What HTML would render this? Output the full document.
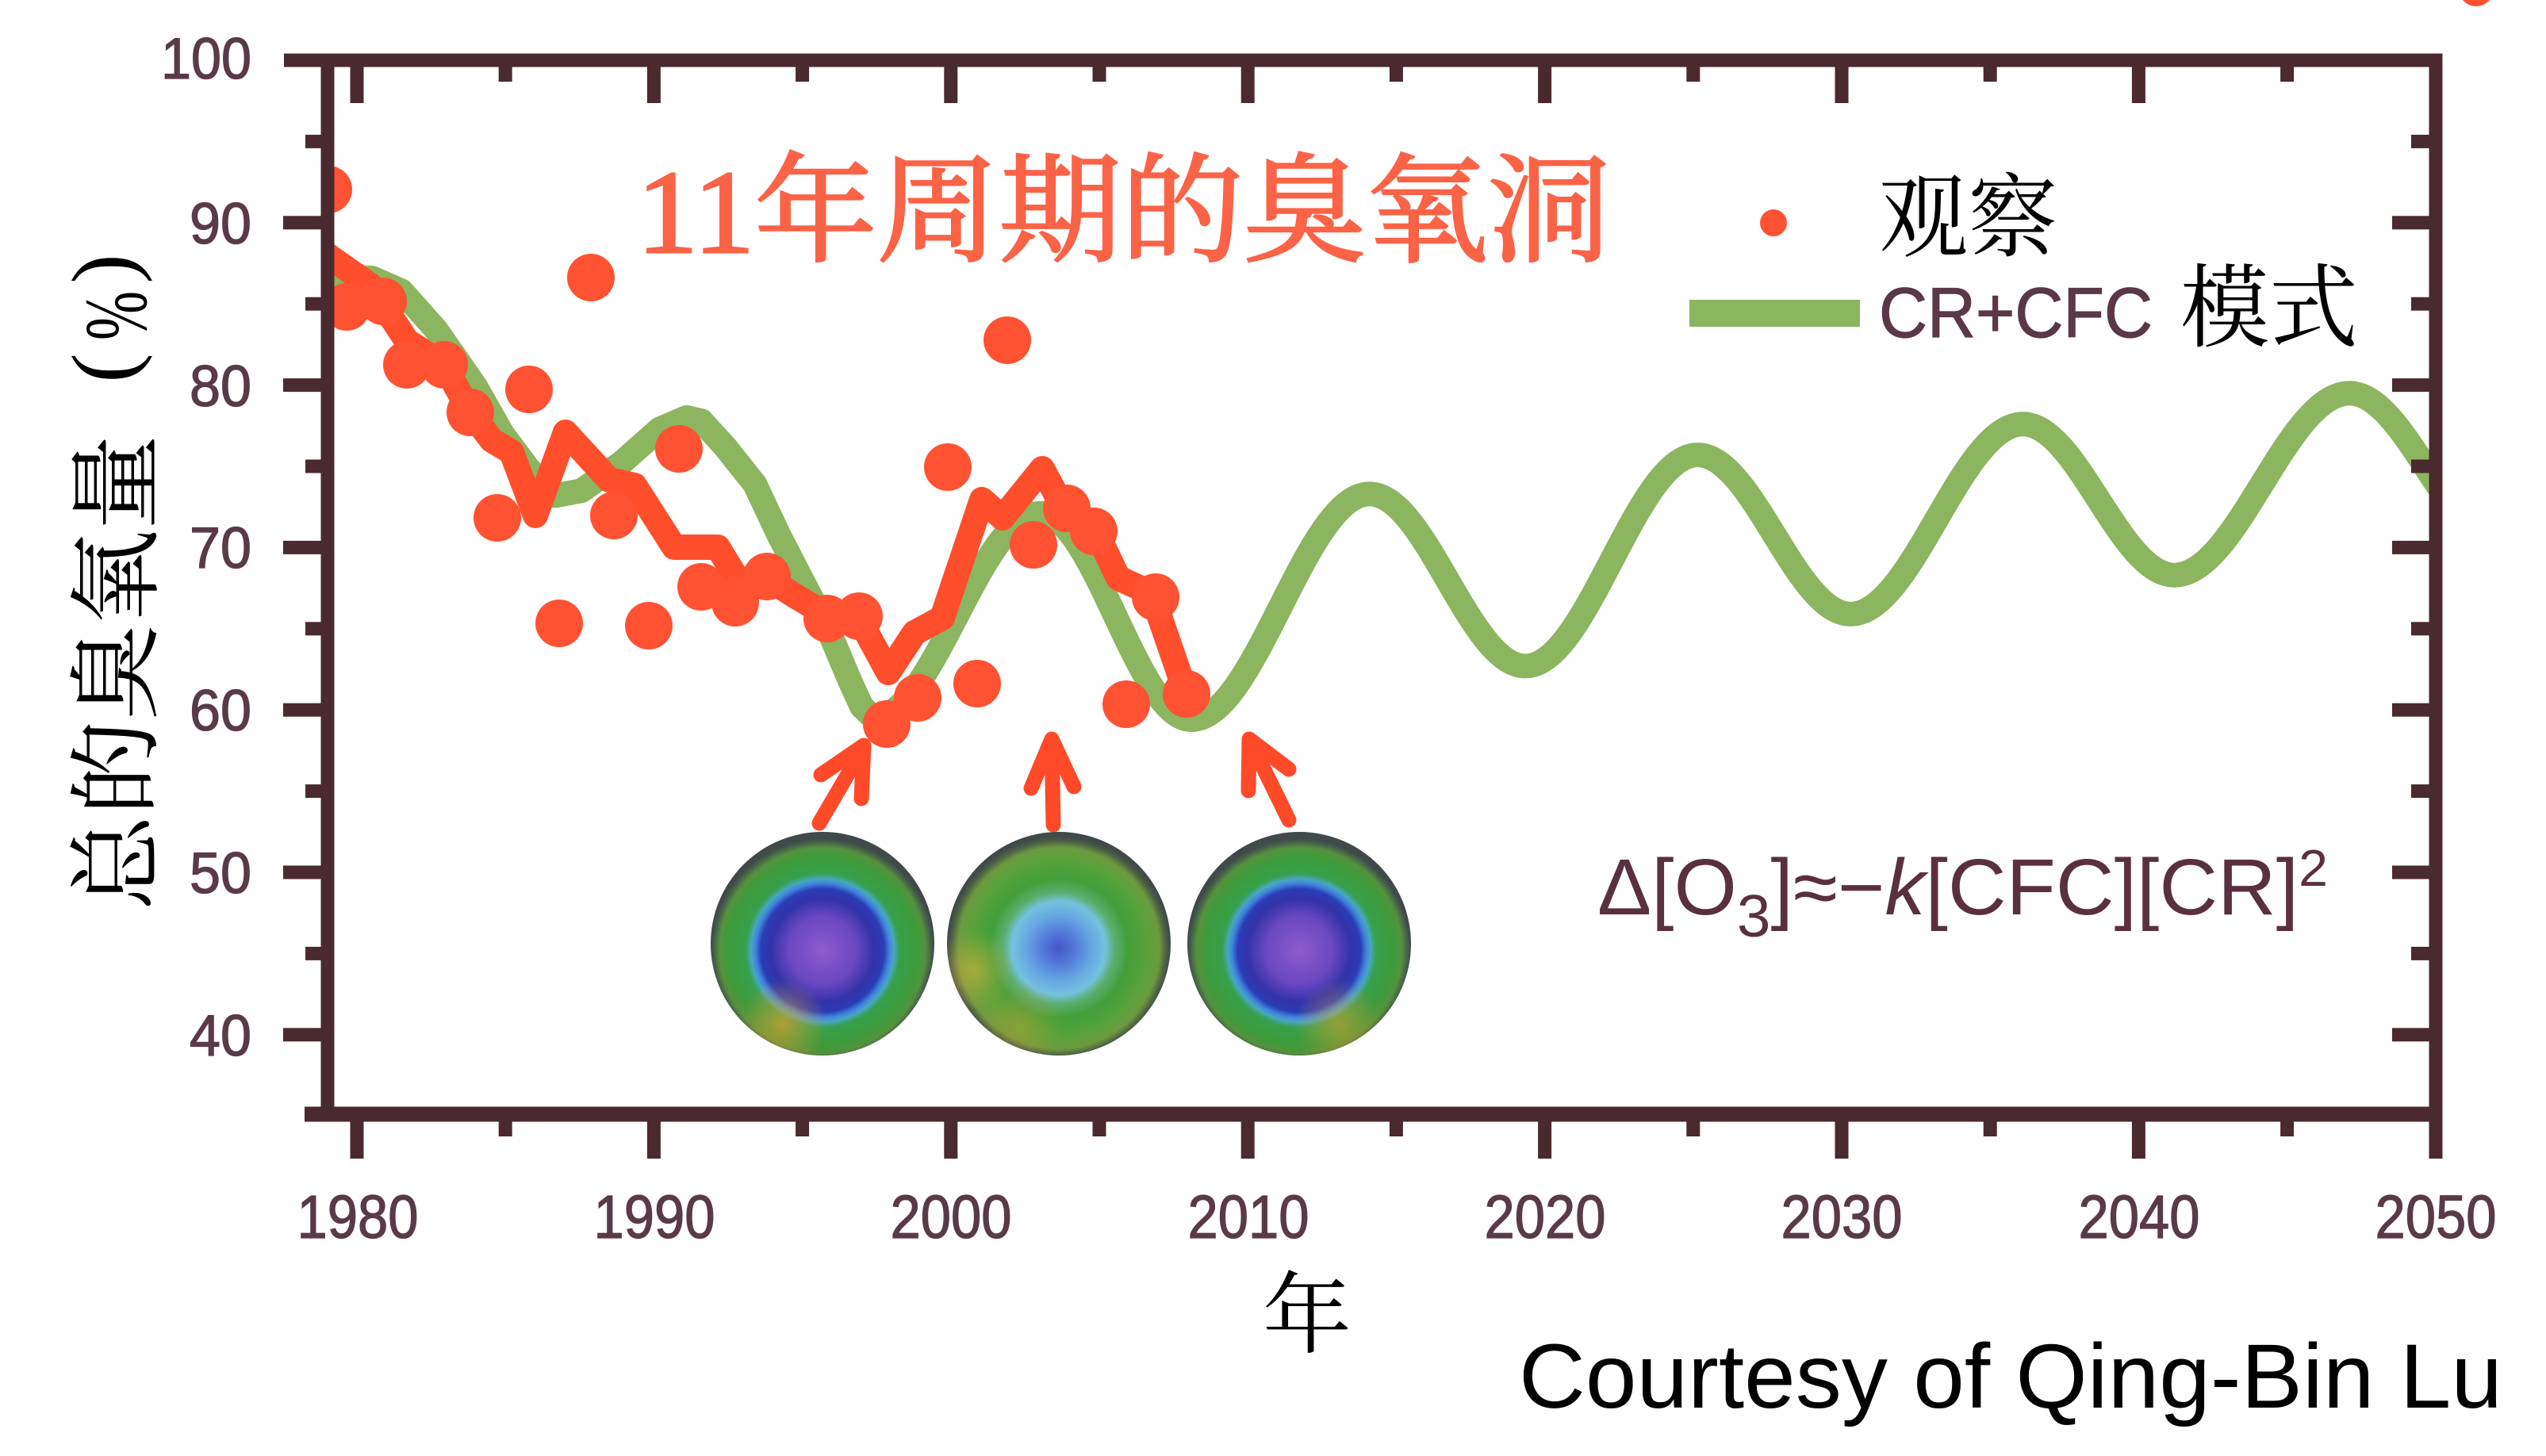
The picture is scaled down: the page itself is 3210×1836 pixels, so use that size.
<!DOCTYPE html>
<html>
<head>
<meta charset="utf-8">
<style>
html,body{margin:0;padding:0;background:#ffffff;}
svg{display:block;}
</style>
</head>
<body>
<svg width="3210" height="1836" viewBox="0 0 3210 1836" xmlns="http://www.w3.org/2000/svg">
<defs>
  <clipPath id="plot"><rect x="413" y="76" width="2658" height="1330"/></clipPath>
  <radialGradient id="gA" cx="0.5" cy="0.53" r="0.5">
    <stop offset="0" stop-color="#8c5ccc"/>
    <stop offset="0.3" stop-color="#6a48c0"/>
    <stop offset="0.46" stop-color="#3433a8"/>
    <stop offset="0.55" stop-color="#2a3cb6"/>
    <stop offset="0.6" stop-color="#3f84dc"/>
    <stop offset="0.64" stop-color="#48a6c0"/>
    <stop offset="0.69" stop-color="#36a04c"/>
    <stop offset="0.84" stop-color="#3c9a3a"/>
    <stop offset="0.92" stop-color="#54913e"/>
    <stop offset="0.97" stop-color="#46604a"/>
    <stop offset="1" stop-color="#404a48"/>
  </radialGradient>
  <radialGradient id="gB" cx="0.5" cy="0.52" r="0.5">
    <stop offset="0" stop-color="#4456c8"/>
    <stop offset="0.14" stop-color="#5478d8"/>
    <stop offset="0.3" stop-color="#66a8e2"/>
    <stop offset="0.42" stop-color="#74c2dc"/>
    <stop offset="0.5" stop-color="#5aae70"/>
    <stop offset="0.62" stop-color="#42a03a"/>
    <stop offset="0.8" stop-color="#5aa23a"/>
    <stop offset="0.9" stop-color="#6c9a40"/>
    <stop offset="0.96" stop-color="#4c6044"/>
    <stop offset="1" stop-color="#404a48"/>
  </radialGradient>
  <radialGradient id="warm" cx="0.32" cy="0.86" r="0.2">
    <stop offset="0" stop-color="#e0a030" stop-opacity="0.7"/>
    <stop offset="1" stop-color="#e0a030" stop-opacity="0"/>
  </radialGradient>
  <radialGradient id="warm2" cx="0.12" cy="0.62" r="0.18">
    <stop offset="0" stop-color="#d8b040" stop-opacity="0.6"/>
    <stop offset="1" stop-color="#d8b040" stop-opacity="0"/>
  </radialGradient>
</defs>

<rect x="0" y="0" width="3210" height="1836" fill="#ffffff"/>

<!-- tiny orange blob top right -->
<circle cx="3122" cy="-14" r="22" fill="#ff5030"/>

<!-- Data -->
<g clip-path="url(#plot)">
  <path transform="matrix(37.44 0 0 -20.48 450 2124)" vector-effect="non-scaling-stroke"
    fill="none" stroke="#8cb55f" stroke-width="31" stroke-linejoin="round" stroke-linecap="butt"
    d="M -1.2 86.2 L 0.0 86.6 L 0.5 86.6 L 1.5 85.8 L 2.67 83.4 L 4.0 79.9 L 4.9 77.0 L 5.8 74.8 L 6.7 73.2 L 7.56 73.5 L 8.9 75.2 L 10.2 77.3 L 11.1 78.0 L 11.6 77.8 L 12.4 76.2 L 13.4 73.9 L 14.2 70.8 L 15.3 66.9 L 16.0 64.4 L 16.6 61.8 L 17.0 60.2 L 17.4 59.5
       C 19.416 59.5 20.984 72.1 23.0 72.1
       C 24.836 72.1 26.264 59.4 28.1 59.4
       C 30.26 59.4 31.94 73.3 34.1 73.3
       C 35.99 73.3 37.46 62.7 39.35 62.7
       C 41.438 62.7 43.062 75.7 45.15 75.7
       C 47.004 75.7 48.446 65.9 50.3 65.9
       C 52.388 65.9 54.012 77.6 56.1 77.6
       C 57.936 77.6 59.364 68.3 61.2 68.3
       C 63.324 68.3 64.976 79.5 67.1 79.5
       C 68.972 79.5 70.428 70.2 72.3 70.2"/>
  <polyline fill="none" stroke="#ff4e2c" stroke-width="32" stroke-linejoin="round" stroke-linecap="round"
    points="413,322 467,360 513,430 560,460 593,520 620,555 645,570 675,650 713,545 768,605 800,612 850,690 905,690 930,731 966,728 1000,750 1037,772 1083,780 1120,848 1153,798 1188,779 1238,630 1264,653 1314,591 1333,626 1379,664 1410,729 1452,748 1490,859"/>
  <g fill="#ff5232">
    <circle cx="414" cy="239" r="30"/>
    <circle cx="437" cy="387" r="30"/>
    <circle cx="483" cy="380" r="30"/>
    <circle cx="513" cy="460" r="30"/>
    <circle cx="560" cy="460" r="30"/>
    <circle cx="593" cy="520" r="30"/>
    <circle cx="627" cy="653" r="30"/>
    <circle cx="667" cy="491" r="30"/>
    <circle cx="705" cy="786" r="30"/>
    <circle cx="745" cy="350" r="30"/>
    <circle cx="774" cy="650" r="30"/>
    <circle cx="818" cy="789" r="30"/>
    <circle cx="856" cy="566" r="30"/>
    <circle cx="884" cy="740" r="30"/>
    <circle cx="927" cy="760" r="30"/>
    <circle cx="967" cy="727" r="30"/>
    <circle cx="1043" cy="780" r="30"/>
    <circle cx="1083" cy="777" r="30"/>
    <circle cx="1118" cy="913" r="30"/>
    <circle cx="1157" cy="880" r="30"/>
    <circle cx="1195" cy="589" r="30"/>
    <circle cx="1232" cy="862" r="30"/>
    <circle cx="1270" cy="429" r="30"/>
    <circle cx="1303" cy="687" r="30"/>
    <circle cx="1345" cy="641" r="30"/>
    <circle cx="1379" cy="670" r="30"/>
    <circle cx="1420" cy="888" r="30"/>
    <circle cx="1457" cy="753" r="30"/>
    <circle cx="1496" cy="875" r="30"/>
  </g>
</g>

<!-- Axes -->
<g fill="#4a2a2e">
  <rect x="404.5" y="67.5" width="17" height="1347"/>
  <rect x="358" y="67.5" width="2721.5" height="17"/>
  <rect x="3062.5" y="67.5" width="17" height="1393.5"/>
  <rect x="384" y="1395.5" width="2695.5" height="19"/>
  <!-- left ticks major -->
  <rect x="357" y="272.3" width="50" height="17"/>
  <rect x="357" y="477.1" width="50" height="17"/>
  <rect x="357" y="681.9" width="50" height="17"/>
  <rect x="357" y="886.7" width="50" height="17"/>
  <rect x="357" y="1091.5" width="50" height="17"/>
  <rect x="357" y="1296.3" width="50" height="17"/>
  <!-- left ticks minor -->
  <rect x="385" y="169.9" width="22" height="17"/>
  <rect x="385" y="374.7" width="22" height="17"/>
  <rect x="385" y="579.5" width="22" height="17"/>
  <rect x="385" y="784.3" width="22" height="17"/>
  <rect x="385" y="989.1" width="22" height="17"/>
  <rect x="385" y="1193.9" width="22" height="17"/>
  <!-- right ticks major -->
  <rect x="3016" y="272.3" width="50" height="17"/>
  <rect x="3016" y="477.1" width="50" height="17"/>
  <rect x="3016" y="681.9" width="50" height="17"/>
  <rect x="3016" y="886.7" width="50" height="17"/>
  <rect x="3016" y="1091.5" width="50" height="17"/>
  <rect x="3016" y="1296.3" width="50" height="17"/>
  <!-- right ticks minor -->
  <rect x="3040" y="169.9" width="26" height="17"/>
  <rect x="3040" y="374.7" width="26" height="17"/>
  <rect x="3040" y="579.5" width="26" height="17"/>
  <rect x="3040" y="784.3" width="26" height="17"/>
  <rect x="3040" y="989.1" width="26" height="17"/>
  <rect x="3040" y="1193.9" width="26" height="17"/>
  <!-- top ticks major -->
  <rect x="441.5" y="80" width="17" height="50"/>
  <rect x="815.9" y="80" width="17" height="50"/>
  <rect x="1190.3" y="80" width="17" height="50"/>
  <rect x="1564.7" y="80" width="17" height="50"/>
  <rect x="1939.1" y="80" width="17" height="50"/>
  <rect x="2313.5" y="80" width="17" height="50"/>
  <rect x="2687.9" y="80" width="17" height="50"/>
  <!-- top ticks minor -->
  <rect x="628.7" y="80" width="17" height="23"/>
  <rect x="1003.1" y="80" width="17" height="23"/>
  <rect x="1377.5" y="80" width="17" height="23"/>
  <rect x="1751.9" y="80" width="17" height="23"/>
  <rect x="2126.3" y="80" width="17" height="23"/>
  <rect x="2500.7" y="80" width="17" height="23"/>
  <rect x="2875.1" y="80" width="17" height="23"/>
  <!-- bottom ticks major -->
  <rect x="441.5" y="1410" width="17" height="51"/>
  <rect x="815.9" y="1410" width="17" height="51"/>
  <rect x="1190.3" y="1410" width="17" height="51"/>
  <rect x="1564.7" y="1410" width="17" height="51"/>
  <rect x="1939.1" y="1410" width="17" height="51"/>
  <rect x="2313.5" y="1410" width="17" height="51"/>
  <rect x="2687.9" y="1410" width="17" height="51"/>
  <!-- bottom ticks minor -->
  <rect x="628.7" y="1410" width="17" height="23"/>
  <rect x="1003.1" y="1410" width="17" height="23"/>
  <rect x="1377.5" y="1410" width="17" height="23"/>
  <rect x="1751.9" y="1410" width="17" height="23"/>
  <rect x="2126.3" y="1410" width="17" height="23"/>
  <rect x="2500.7" y="1410" width="17" height="23"/>
  <rect x="2875.1" y="1410" width="17" height="23"/>
</g>

<!-- Tick labels -->
<g font-family="Liberation Sans, Arial, sans-serif" fill="#5a3a48" stroke="#5a3a48" stroke-width="1.3">
  <g text-anchor="end" font-size="73">
    <text x="317" y="99" textLength="114" lengthAdjust="spacingAndGlyphs">100</text>
    <text x="317" y="307" textLength="78" lengthAdjust="spacingAndGlyphs">90</text>
    <text x="317" y="512" textLength="78" lengthAdjust="spacingAndGlyphs">80</text>
    <text x="317" y="716" textLength="78" lengthAdjust="spacingAndGlyphs">70</text>
    <text x="317" y="921" textLength="78" lengthAdjust="spacingAndGlyphs">60</text>
    <text x="317" y="1126" textLength="78" lengthAdjust="spacingAndGlyphs">50</text>
    <text x="317" y="1331" textLength="78" lengthAdjust="spacingAndGlyphs">40</text>
  </g>
  <g text-anchor="middle" font-size="77">
    <text x="451" y="1561" textLength="153" lengthAdjust="spacingAndGlyphs">1980</text>
    <text x="825" y="1561" textLength="153" lengthAdjust="spacingAndGlyphs">1990</text>
    <text x="1199" y="1561" textLength="153" lengthAdjust="spacingAndGlyphs">2000</text>
    <text x="1574" y="1561" textLength="153" lengthAdjust="spacingAndGlyphs">2010</text>
    <text x="1948" y="1561" textLength="153" lengthAdjust="spacingAndGlyphs">2020</text>
    <text x="2322" y="1561" textLength="153" lengthAdjust="spacingAndGlyphs">2030</text>
    <text x="2697" y="1561" textLength="153" lengthAdjust="spacingAndGlyphs">2040</text>
    <text x="3071" y="1561" textLength="153" lengthAdjust="spacingAndGlyphs">2050</text>
  </g>
</g>

<!-- Y axis title -->
<g transform="rotate(-90)" font-family="Liberation Serif, 'Noto Serif CJK SC', serif" fill="#000">
  <text x="-1148" y="188" font-size="118" textLength="600" lengthAdjust="spacingAndGlyphs">总的臭氧量</text>
  <text x="-464" y="168" font-size="112" text-anchor="middle">(</text>
  <text x="-398" y="184" font-size="112" text-anchor="middle" textLength="62" lengthAdjust="spacingAndGlyphs">%</text>
  <text x="-339" y="168" font-size="112" text-anchor="middle">)</text>
</g>

<!-- X axis title -->
<text x="1648" y="1697" font-family="Liberation Serif, 'Noto Serif CJK SC', serif" font-size="112" text-anchor="middle" fill="#000">年</text>

<!-- Title -->
<text x="803" y="318" font-family="Liberation Serif, 'Noto Serif CJK SC', serif" font-size="150" fill="#fb6347" stroke="#fb6347" stroke-width="3" textLength="1227" lengthAdjust="spacingAndGlyphs">11年周期的臭氧洞</text>

<!-- Legend -->
<circle cx="2236" cy="281" r="17" fill="#ff5232"/>
<text x="2369" y="314" font-family="Liberation Serif, 'Noto Serif CJK SC', serif" font-size="115" fill="#000" textLength="225" lengthAdjust="spacingAndGlyphs">观察</text>
<rect x="2130" y="378" width="215" height="34" fill="#8cb55f"/>
<text x="2369" y="425" font-family="Liberation Sans, Arial, sans-serif" font-size="89" fill="#5a3848" stroke="#5a3848" stroke-width="1.2" textLength="345" lengthAdjust="spacingAndGlyphs">CR+CFC</text>
<text x="2749" y="428" font-family="Liberation Serif, 'Noto Serif CJK SC', serif" font-size="115" fill="#000" textLength="224" lengthAdjust="spacingAndGlyphs">模式</text>

<!-- Formula -->
<text x="2014" y="1153" font-family="Liberation Sans, Arial, sans-serif" font-size="100" fill="#5a3040" textLength="921" lengthAdjust="spacingAndGlyphs">Δ[O<tspan font-size="75" dy="28">3</tspan><tspan dy="-28">]≈−</tspan><tspan font-style="italic">k</tspan>[CFC][CR]<tspan font-size="65" dy="-36">2</tspan></text>

<!-- Arrows -->
<g fill="none" stroke="#ff4a2a" stroke-width="19" stroke-linecap="round" stroke-linejoin="round">
  <line x1="1033" y1="1038" x2="1089" y2="942"/>
  <polyline points="1035,977 1089,940 1086,1007"/>
  <line x1="1328" y1="1040" x2="1326" y2="934"/>
  <polyline points="1300,994 1326,932 1354,992"/>
  <line x1="1625" y1="1034" x2="1576" y2="934"/>
  <polyline points="1574,997 1575,932 1625,970"/>
</g>

<!-- Globes -->
<g>
  <circle cx="1037" cy="1190" r="141" fill="url(#gA)"/>
  <circle cx="1037" cy="1190" r="141" fill="url(#warm)"/>
  <circle cx="1335" cy="1190" r="141" fill="url(#gB)"/>
  <circle cx="1335" cy="1190" r="141" fill="url(#warm2)"/>
  <circle cx="1335" cy="1190" r="141" fill="url(#warm)" opacity="0.5"/>
  <circle cx="1638" cy="1190" r="141" fill="url(#gA)"/>
  <circle cx="1638" cy="1190" r="141" fill="url(#warm)" transform="translate(3276 0) scale(-1 1)" opacity="0.8"/>
</g>

<!-- Credit -->
<text x="1915" y="1775" font-family="Liberation Sans, Arial, sans-serif" font-size="115" fill="#000" textLength="1240" lengthAdjust="spacingAndGlyphs">Courtesy of Qing-Bin Lu</text>
</svg>
</body>
</html>
